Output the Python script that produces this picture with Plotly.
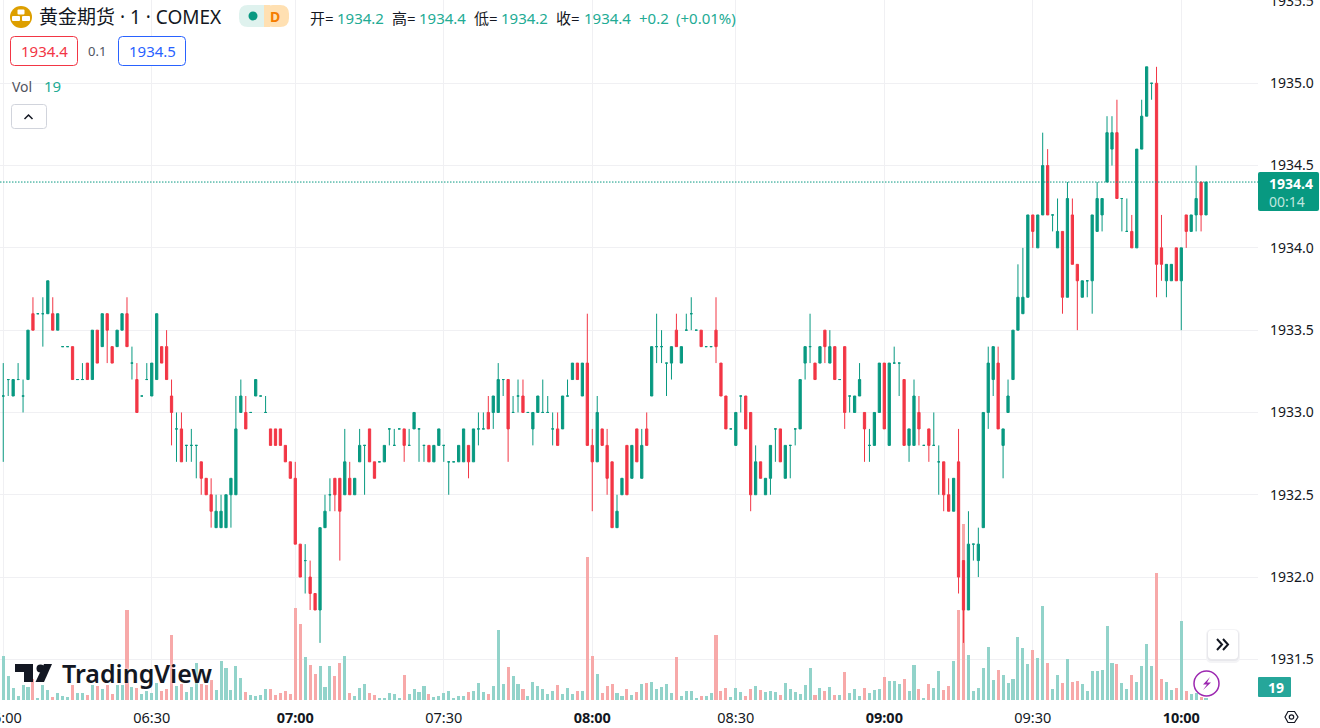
import plotly.graph_objects as go

PRICE_BASE = 1900

open_vals = [
    33.1,33.2,33.1,33.2,33.1,33.2,33.6,33.6,33.6,33.6,
    33.6,33.5,33.4,33.4,33.4,33.2,33.2,33.3,33.2,33.5,
    33.4,33.6,33.4,33.4,33.5,33.6,33.3,33.2,33.1,33.2,
    33.1,33.2,33.4,33.4,33.1,32.9,32.9,32.8,32.8,32.8,
    32.7,32.6,32.5,32.3,32.3,32.3,32.5,32.5,33.0,33.0,
    33.0,33.1,33.1,33.0,32.9,32.9,32.9,32.8,32.7,32.6,
    32.2,32.1,32.0,31.9,31.8,32.3,32.5,32.6,32.6,32.5,
    32.6,32.5,32.7,32.8,32.9,32.7,32.7,32.7,32.9,32.8,
    32.9,32.9,32.8,32.9,32.9,32.8,32.8,32.7,32.8,32.8,
    32.7,32.7,32.7,32.7,32.8,32.7,32.9,32.9,33.0,33.0,
    33.0,33.2,33.2,33.0,33.1,33.1,33.0,32.9,33.0,33.0,
    33.0,32.9,32.9,32.9,33.1,33.2,33.3,33.1,33.3,32.8,
    32.7,32.9,32.8,32.7,32.3,32.5,32.8,32.6,32.9,32.6,
    32.9,33.1,33.4,33.4,33.3,33.3,33.5,33.3,33.5,33.6,
    33.5,33.5,33.4,33.4,33.5,33.3,33.1,32.9,32.8,33.1,
    33.1,33.0,32.5,32.7,32.5,32.6,32.9,32.9,32.6,32.8,
    32.9,32.9,33.3,33.4,33.3,33.3,33.5,33.3,33.4,33.2,
    33.4,33.1,33.0,33.1,33.0,32.8,32.8,33.0,33.3,32.8,
    33.3,33.3,33.2,32.8,32.8,33.0,32.8,32.9,32.8,32.7,
    32.7,32.5,32.4,32.7,32.1,31.8,32.2,32.1,32.3,33.0,
    33.2,33.3,32.8,33.0,33.2,33.5,33.6,33.7,34.2,34.0,
    34.2,34.5,34.2,34.0,34.1,33.7,34.2,33.9,33.7,33.8,
    33.8,34.1,34.2,34.4,34.6,34.7,34.3,34.1,34.1,34.0,
    34.6,34.8,35.0,35.0,34.0,33.8,33.8,34.0,33.8,34.2,
    34.1,34.2,34.4,34.2,
]
high_vals = [
    33.3,33.2,33.2,33.3,33.2,33.5,33.7,33.6,33.7,33.8,
    33.7,33.6,33.4,33.4,33.4,33.2,33.3,33.3,33.5,33.5,
    33.6,33.6,33.4,33.5,33.6,33.7,33.4,33.3,33.1,33.3,
    33.3,33.6,33.4,33.5,33.2,33.0,33.0,32.8,32.9,32.8,
    32.7,32.6,32.6,32.5,32.5,32.5,32.6,33.1,33.2,33.1,
    33.0,33.2,33.1,33.1,32.9,32.9,32.9,32.8,32.7,32.7,
    32.2,32.2,32.1,31.9,32.3,32.5,32.6,32.6,32.6,32.9,
    32.7,32.6,32.9,32.8,32.9,32.7,32.7,32.8,32.9,32.9,
    32.9,32.9,32.9,33.0,32.9,32.8,32.8,32.8,32.9,32.8,
    32.7,32.7,32.8,32.9,32.8,32.9,33.0,33.0,33.1,33.1,
    33.3,33.2,33.2,33.1,33.2,33.2,33.0,33.0,33.1,33.2,
    33.1,33.0,33.0,33.1,33.2,33.3,33.3,33.3,33.6,32.9,
    33.1,32.9,32.9,32.7,32.5,32.6,32.8,32.8,32.9,32.9,
    33.0,33.4,33.6,33.5,33.3,33.4,33.6,33.4,33.6,33.7,
    33.5,33.5,33.4,33.4,33.7,33.3,33.1,32.9,33.0,33.1,
    33.1,33.0,32.8,32.7,32.6,32.8,32.9,32.9,32.8,32.8,
    32.9,33.2,33.4,33.6,33.3,33.4,33.5,33.5,33.4,33.2,
    33.4,33.1,33.1,33.3,33.0,32.9,33.0,33.3,33.3,33.3,
    33.4,33.3,33.2,32.9,33.2,33.1,32.8,32.9,33.0,32.8,
    32.7,32.6,32.6,32.9,32.1,32.4,32.2,32.3,33.0,33.4,
    33.4,33.4,32.9,33.2,33.5,33.9,34.0,34.2,34.2,34.2,
    34.7,34.6,34.2,34.3,34.1,34.4,34.3,33.9,33.8,33.8,
    34.2,34.4,34.3,34.8,34.8,34.9,34.3,34.3,34.2,34.6,
    34.9,35.1,35.0,35.1,34.2,33.9,33.9,34.0,34.0,34.2,
    34.2,34.5,34.4,34.4,
]
low_vals = [
    32.7,33.1,33.1,33.2,33.0,33.2,33.5,33.6,33.4,33.6,
    33.5,33.5,33.4,33.4,33.2,33.2,33.2,33.2,33.2,33.3,
    33.4,33.3,33.3,33.4,33.5,33.4,33.2,33.0,33.1,33.2,
    33.1,33.2,33.3,33.2,32.8,32.7,32.7,32.7,32.7,32.6,
    32.5,32.5,32.3,32.3,32.3,32.3,32.3,32.5,33.0,32.9,
    33.0,33.1,33.1,33.0,32.8,32.8,32.8,32.7,32.6,32.2,
    32.0,31.9,31.8,31.8,31.6,32.3,32.4,32.4,32.1,32.5,
    32.5,32.5,32.7,32.5,32.7,32.6,32.7,32.7,32.8,32.8,
    32.9,32.7,32.8,32.9,32.7,32.7,32.7,32.7,32.8,32.7,
    32.5,32.7,32.7,32.7,32.6,32.7,32.8,32.9,32.9,32.9,
    33.0,33.1,32.7,33.0,33.0,33.0,33.0,32.8,33.0,33.0,
    33.0,32.8,32.8,32.9,33.1,33.2,33.2,33.1,32.8,32.4,
    32.7,32.8,32.5,32.3,32.3,32.5,32.5,32.6,32.7,32.6,
    32.8,33.1,33.3,33.3,33.1,33.2,33.4,33.3,33.5,33.5,
    33.5,33.4,33.4,33.4,33.3,33.1,32.9,32.9,32.8,33.0,
    32.9,32.4,32.5,32.6,32.5,32.5,32.7,32.7,32.6,32.6,
    32.8,32.9,33.2,33.3,33.2,33.3,33.3,33.3,33.2,33.2,
    32.9,33.0,33.0,33.1,32.7,32.7,32.8,33.0,32.9,32.8,
    33.3,33.1,32.8,32.7,32.8,32.8,32.8,32.7,32.8,32.5,
    32.4,32.4,32.4,31.9,31.6,31.8,32.1,32.0,32.3,32.9,
    33.1,32.9,32.6,33.0,33.2,33.5,33.6,33.7,34.0,34.0,
    34.2,34.2,34.1,34.0,33.6,33.7,33.9,33.5,33.7,33.7,
    33.6,34.1,34.1,34.4,34.5,34.3,34.1,34.1,34.0,34.0,
    34.6,34.8,34.9,33.7,33.8,33.7,33.8,33.8,33.5,34.0,
    34.1,34.1,34.1,34.2,
]
close_vals = [
    33.1,33.2,33.2,33.2,33.1,33.5,33.5,33.6,33.6,33.8,
    33.5,33.6,33.4,33.4,33.2,33.2,33.2,33.2,33.5,33.3,
    33.6,33.5,33.3,33.5,33.6,33.4,33.3,33.0,33.1,33.2,
    33.3,33.6,33.3,33.2,33.0,32.9,32.7,32.8,32.8,32.8,
    32.6,32.5,32.4,32.4,32.4,32.5,32.6,32.9,33.1,32.9,
    33.0,33.2,33.1,33.0,32.8,32.8,32.8,32.7,32.6,32.2,
    32.0,32.1,31.9,31.8,32.3,32.4,32.5,32.5,32.4,32.7,
    32.5,32.6,32.8,32.8,32.7,32.6,32.7,32.8,32.9,32.8,
    32.9,32.8,32.8,33.0,32.9,32.8,32.7,32.8,32.9,32.8,
    32.7,32.7,32.8,32.9,32.7,32.9,32.9,32.9,32.9,33.1,
    33.2,33.2,32.9,33.0,33.1,33.0,33.0,33.0,33.1,33.0,
    33.0,32.9,32.8,33.1,33.1,33.3,33.2,33.3,32.8,32.7,
    33.0,32.8,32.6,32.3,32.4,32.6,32.5,32.8,32.7,32.8,
    32.8,33.4,33.4,33.4,33.3,33.4,33.4,33.4,33.5,33.6,
    33.5,33.4,33.4,33.4,33.4,33.1,32.9,32.9,33.0,33.1,
    32.9,32.5,32.7,32.6,32.6,32.8,32.9,32.7,32.8,32.8,
    32.9,33.2,33.4,33.4,33.2,33.4,33.4,33.4,33.2,33.2,
    33.0,33.1,33.1,33.2,32.9,32.8,33.0,33.3,32.9,33.3,
    33.3,33.3,32.8,32.9,33.1,32.9,32.8,32.8,32.8,32.7,
    32.5,32.4,32.6,32.0,31.8,32.2,32.2,32.2,33.0,33.3,
    33.4,32.9,32.9,33.1,33.5,33.7,33.7,34.2,34.1,34.2,
    34.5,34.2,34.2,34.1,33.7,34.3,33.9,33.8,33.8,33.8,
    34.2,34.3,34.3,34.7,34.7,34.3,34.3,34.1,34.0,34.6,
    34.8,35.1,35.0,33.9,33.9,33.9,33.9,33.8,34.0,34.1,
    34.2,34.3,34.2,34.4,
]
volumes = [
    440,240,120,40,150,130,210,20,150,100,
    30,70,40,30,150,70,70,50,150,140,
    110,150,60,150,150,900,130,120,60,90,
    70,170,90,110,650,140,160,80,130,370,
    160,150,200,100,390,320,100,340,220,80,
    50,40,50,110,110,50,70,90,60,920,
    760,430,350,260,340,130,340,240,370,440,
    70,40,120,160,70,50,20,20,70,60,
    20,250,60,110,80,140,60,30,40,70,
    90,20,40,40,80,90,170,80,60,140,
    700,160,330,240,160,110,40,180,140,110,
    60,90,150,60,120,60,90,90,1430,440,
    260,70,140,160,70,40,110,50,80,160,
    170,180,110,130,160,70,430,40,90,90,
    20,40,40,70,650,90,120,30,120,80,
    40,110,140,100,80,90,80,50,170,110,
    80,60,150,320,50,120,90,130,50,50,
    280,70,110,40,120,70,100,110,230,190,
    190,160,210,90,350,110,20,160,120,290,
    100,140,390,900,1760,450,90,120,320,530,
    200,300,250,170,210,630,520,360,500,420,
    940,370,110,250,170,410,180,190,160,90,
    290,290,300,740,370,360,170,110,250,180,
    340,560,340,1270,210,180,100,120,790,90,
    60,70,30,19,
]

# bar index of each time label (a couple of minutes are missing in the feed)
tick_bars = [0, 30, 59, 89, 119, 148, 178, 208, 238]
tick_labels = ["06:00", "06:30", "<b>07:00</b>", "07:30", "<b>08:00</b>", "08:30",
               "<b>09:00</b>", "09:30", "<b>10:00</b>"]
price_ticks = [1931.5, 1932.0, 1932.5, 1933.0, 1933.5, 1934.0, 1934.5, 1935.0, 1935.5]
last_price = 1934.4

UP = "#089981"
DOWN = "#f23645"
UP_VOL = "#92d3ca"
DOWN_VOL = "#f7a9a9"
GRID = "#f0f0f3"
TEXT = "#131722"
FONT = "Noto Sans, Noto Sans CJK SC, sans-serif"

PANE_W = 1258
PANE_H = 700


def px(x):
    return x / PANE_W


def py(y):
    return 1 - y / PANE_H


def rbox(x0, y0, x1, y1, r, fill="white", line=None, width=1):
    p = (f"M{px(x0 + r)},{py(y0)} L{px(x1 - r)},{py(y0)} Q{px(x1)},{py(y0)} {px(x1)},{py(y0 + r)} "
         f"L{px(x1)},{py(y1 - r)} Q{px(x1)},{py(y1)} {px(x1 - r)},{py(y1)} L{px(x0 + r)},{py(y1)} "
         f"Q{px(x0)},{py(y1)} {px(x0)},{py(y1 - r)} L{px(x0)},{py(y0 + r)} Q{px(x0)},{py(y0)} {px(x0 + r)},{py(y0)} Z")
    return dict(type="path", xref="paper", yref="paper", path=p, fillcolor=fill,
                line=dict(color=line or fill, width=width if line else 0))


def poly(points, fill=None, line=None, width=1, closed=True):
    p = "M" + " L".join(f"{px(x)},{py(y)}" for x, y in points) + (" Z" if closed else "")
    return dict(type="path", xref="paper", yref="paper", path=p, fillcolor=fill or "rgba(0,0,0,0)",
                line=dict(color=line or "rgba(0,0,0,0)", width=width if line else 0))


def dot(cx, cy, r, fill="rgba(0,0,0,0)", line=None, width=1):
    return dict(type="circle", xref="paper", yref="paper", x0=px(cx - r), x1=px(cx + r),
                y0=py(cy + r), y1=py(cy - r), fillcolor=fill,
                line=dict(color=line or "rgba(0,0,0,0)", width=width if line else 0))


def label(x, y, text, color=TEXT, size=14, anchor="left", **font):
    return dict(xref="paper", yref="paper", x=px(x), y=py(y), text=text, showarrow=False,
                xanchor=anchor, yanchor="middle", borderpad=0,
                font=dict(family=FONT, size=size, color=color, **font))


bars = list(range(len(close_vals)))
is_up = [c >= o for o, c in zip(open_vals, close_vals)]

fig = go.Figure()

fig.add_trace(go.Bar(
    x=bars, y=volumes, width=0.62, yaxis="y",
    marker=dict(color=[UP_VOL if u else DOWN_VOL for u in is_up], line=dict(width=0)),
    hoverinfo="skip", showlegend=False,
))

# two traces so that doji bars stay green whatever the previous close was
for want_up, color in ((True, UP), (False, DOWN)):
    idx = [i for i in bars if is_up[i] == want_up]
    fig.add_trace(go.Candlestick(
        x=idx,
        open=[PRICE_BASE + open_vals[i] for i in idx],
        high=[PRICE_BASE + high_vals[i] for i in idx],
        low=[PRICE_BASE + low_vals[i] for i in idx],
        close=[PRICE_BASE + close_vals[i] for i in idx],
        yaxis="y2", whiskerwidth=0, showlegend=False,
        increasing=dict(line=dict(color=color, width=1), fillcolor=color),
        decreasing=dict(line=dict(color=color, width=1), fillcolor=color),
    ))

shapes = [
    # last price line
    dict(type="line", xref="paper", yref="y2", x0=0, x1=1, y0=last_price, y1=last_price,
         line=dict(color=UP, width=1, dash="1.5px,1.5px")),
    # gold icon
    dot(21, 17, 11, fill="#dd9f00"),
    rbox(17.5, 9.5, 24.5, 14.5, 1, fill="white"),
    rbox(12, 16, 20, 21, 1, fill="white"),
    rbox(22, 16, 30, 21, 1, fill="white"),
    # market status pill
    rbox(239, 5, 275, 27, 9, fill="#dff2ee"),
    rbox(264, 5, 289, 27, 9, fill="#ffe0b2"),
    poly([(264, 5), (270, 5), (270, 27), (264, 27)], fill="#ffe0b2"),
    dot(253, 16, 4.5, fill=UP),
    # bid and ask boxes
    rbox(10.5, 36.5, 77.5, 65.5, 4, fill="white", line=DOWN),
    rbox(118.5, 36.5, 185.5, 65.5, 4, fill="white", line="#2962ff"),
    # collapse button
    rbox(11.5, 104.5, 46.5, 128.5, 3, fill="white", line="#d1d4dc"),
    poly([(24.5, 119), (28.5, 115), (32.5, 119)], line=TEXT, width=1.5, closed=False),
    # TradingView logo mark
    poly([(15, 664), (33, 664), (33, 682), (24, 682), (24, 672), (15, 672)], fill=TEXT),
    dot(40.5, 668.5, 4, fill=TEXT),
    poly([(44, 664), (52, 664), (44, 682), (35.5, 682)], fill=TEXT),
    # price and volume labels on the axis
    rbox(1258, 172, 1319, 211, 2, fill=UP),
    rbox(1258, 677, 1291, 697, 1, fill="#26a69a"),
    # scroll button with a soft shadow
    rbox(1206, 629, 1240, 663, 6, fill="#f4f4f6"),
    rbox(1207, 630, 1239, 661, 5, fill="#e8e8ec"),
    rbox(1208, 630, 1238, 659, 4, fill="white"),
    poly([(1217, 639), (1222, 644.5), (1217, 650)], line=TEXT, width=2, closed=False),
    poly([(1223, 639), (1228, 644.5), (1223, 650)], line=TEXT, width=2, closed=False),
    # lightning badge
    dot(1206.5, 683.5, 12.5, fill="white", line="#9c27b0", width=1.5),
    poly([(1210, 677), (1203, 684.5), (1207, 684.5), (1203, 690), (1211, 682.5), (1207, 682.5)], fill="#9c27b0"),
    # settings hexagon
    poly([(1285, 717), (1288, 711.5), (1294.5, 711.5), (1298, 717), (1294.5, 722.5), (1288, 722.5)],
         line=TEXT, width=1.2),
    dot(1291.5, 717, 2.2, line=TEXT, width=1.2),
]

annotations = [
    label(38, 17, "黄金期货 · 1 · COMEX", size=19),
    label(275, 16, "<b>D</b>", color="#f57c00", size=14, anchor="center"),
    label(309, 18, "开=", size=15),
    label(336, 18, "1934.2", color="#22ab94", size=15),
    label(391, 18, "高=", size=15),
    label(418, 18, "1934.4", color="#22ab94", size=15),
    label(473, 18, "低=", size=15),
    label(500, 18, "1934.2", color="#22ab94", size=15),
    label(555, 18, "收=", size=15),
    label(583, 18, "1934.4", color="#22ab94", size=15),
    label(638, 18, "+0.2", color="#22ab94", size=15),
    label(675, 18, "(+0.01%)", color="#22ab94", size=15),
    label(44, 51, "1934.4", color=DOWN, size=15, anchor="center"),
    label(97, 51, "0.1", color="#50535e", size=13, anchor="center"),
    label(152, 51, "1934.5", color="#2962ff", size=15, anchor="center"),
    label(11, 86, "Vol", color="#50535e", size=14),
    label(43, 86, "19", color="#22ab94", size=15),
    label(61, 673, "TradingView", size=25, weight=600, shadow="0 0 3px white"),
    label(1291, 183, "<b>1934.4</b>", color="white", size=14, anchor="center"),
    label(1286.5, 201, "00:14", color="#bfe6df", size=14, anchor="center"),
    label(1276, 687, "<b>19</b>", color="white", size=14, anchor="center"),
]

fig.update_layout(
    width=1320, height=728,
    margin=dict(l=0, r=1320 - PANE_W, t=0, b=728 - PANE_H),
    paper_bgcolor="white", plot_bgcolor="white",
    font=dict(family=FONT, size=14, color=TEXT),
    showlegend=False,
    boxgap=0.35,
    bargap=0,
    xaxis=dict(
        range=[-0.657, 253.5], tickmode="array", tickvals=tick_bars, ticktext=tick_labels,
        showgrid=True, gridcolor=GRID, gridwidth=1, zeroline=False, ticks="", showline=False,
        rangeslider=dict(visible=False), ticklabelstandoff=7, ticklabeloverflow="allow",
        automargin=False, tickfont=dict(size=14.5),
    ),
    # 10 volume units per pixel of pane height
    yaxis=dict(range=[0, 7000], visible=False, showgrid=False, zeroline=False, automargin=False),
    yaxis2=dict(
        range=[1931.253, 1935.506], overlaying="y", side="right", tickmode="array",
        tickvals=price_ticks, ticktext=[f"{t:.1f}" for t in price_ticks],
        showgrid=True, gridcolor=GRID, gridwidth=1, zeroline=False, ticks="", showline=False,
        ticklabelstandoff=11, ticklabeloverflow="allow", automargin=False,
    ),
    shapes=shapes,
    annotations=annotations,
)

# the page's default body margin would push the chart 8px off
fig.write_html("out.html", config={"displayModeBar": False},
               post_script="document.body.style.margin='0';document.documentElement.style.overflow='hidden';")
